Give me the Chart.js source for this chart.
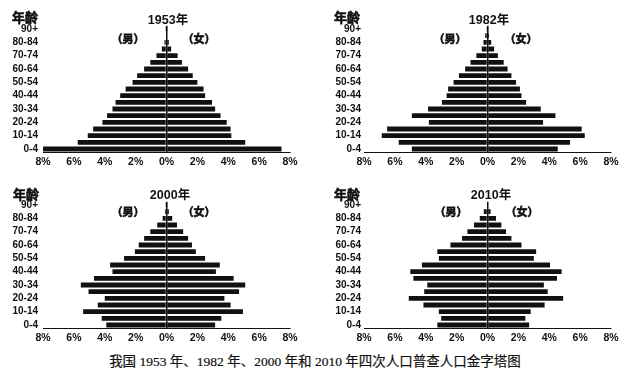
<!DOCTYPE html>
<html>
<head>
<meta charset="utf-8">
<script src="https://cdn.jsdelivr.net/npm/chart.js@4.4.1/dist/chart.umd.min.js"></script>
<style>
    body { margin: 0; background: #fff; }
    #page { position: relative; width: 630px; height: 377px; overflow: hidden; background: #fff; }
    canvas { position: absolute; }
    .txt { position: absolute; transform: translate(-50%, -50%); white-space: nowrap; color: #111;
           font-family: "Liberation Sans", "Noto Sans CJK SC", sans-serif; font-weight: bold; }
    .cjk { font-family: "Noto Sans CJK SC", sans-serif; -webkit-text-stroke: 0.6px #111; }
    #caption { position: absolute; left: 315px; top: 360px; transform: translate(-50%, -50%); white-space: nowrap;
               font-family: "Liberation Serif", "Noto Sans CJK SC", serif; font-size: 13.5px; color: #111;
               -webkit-text-stroke: 0.2px #111; }
</style>
</head>
<body>
<div id="page">
    <canvas id="c1" width="310" height="170" style="left:0px;top:0px"></canvas>
    <canvas id="c2" width="310" height="170" style="left:321px;top:0px"></canvas>
    <canvas id="c3" width="310" height="170" style="left:0px;top:176px"></canvas>
    <canvas id="c4" width="310" height="170" style="left:321px;top:176px"></canvas>

    <div class="txt cjk" style="left:25px;top:16px;font-size:13px">年龄</div>
    <div class="txt" style="left:168px;top:18px;font-size:12.5px">1953年</div>
    <div class="txt cjk" style="left:128px;top:38px;font-size:11px">（男）</div>
    <div class="txt cjk" style="left:199px;top:38px;font-size:11px">（女）</div>

    <div class="txt cjk" style="left:347px;top:16px;font-size:13px">年龄</div>
    <div class="txt" style="left:489px;top:18px;font-size:12.5px">1982年</div>
    <div class="txt cjk" style="left:450px;top:38px;font-size:11px">（男）</div>
    <div class="txt cjk" style="left:521px;top:38px;font-size:11px">（女）</div>

    <div class="txt cjk" style="left:26px;top:193px;font-size:13px">年龄</div>
    <div class="txt" style="left:170px;top:193px;font-size:12.5px">2000年</div>
    <div class="txt cjk" style="left:128px;top:211px;font-size:11px">（男）</div>
    <div class="txt cjk" style="left:199px;top:211px;font-size:11px">（女）</div>

    <div class="txt cjk" style="left:347px;top:193px;font-size:13px">年龄</div>
    <div class="txt" style="left:491px;top:193px;font-size:12.5px">2010年</div>
    <div class="txt cjk" style="left:451px;top:211px;font-size:11px">（男）</div>
    <div class="txt cjk" style="left:522px;top:211px;font-size:11px">（女）</div>

    <div id="caption">我国 1953 年、1982 年、2000 年和 2010 年四次人口普查人口金字塔图</div>
</div>
<script>
// age groups, youngest first
var ageGroups = ['0-4','5-9','10-14','15-19','20-24','25-29','30-34','35-39','40-44','45-49',
                 '50-54','55-59','60-64','65-69','70-74','75-79','80-84','85-89','90+'];
var xTicks = [-8, -6, -4, -2, 0, 2, 4, 6, 8];

// percent of total population
var male1953   = [8.0, 5.75, 5.1, 4.75, 4.15, 3.85, 3.5, 3.3, 3.0, 2.65, 2.2, 1.9, 1.45, 1.05, 0.65, 0.3, 0.13, 0.05, 0.02];
var female1953 = [7.45, 5.1, 4.2, 4.15, 3.9, 3.5, 3.15, 2.95, 2.5, 2.4, 2.0, 1.7, 1.4, 1.0, 0.72, 0.3, 0.15, 0.05, 0.02];

var male1982   = [4.9, 5.75, 6.85, 6.5, 3.8, 4.9, 3.85, 2.95, 2.65, 2.55, 2.2, 1.85, 1.45, 1.1, 0.72, 0.37, 0.26, 0.15, 0.03];
var female1982 = [4.55, 5.35, 6.3, 6.1, 3.6, 4.4, 3.45, 2.5, 2.2, 2.1, 1.85, 1.55, 1.3, 1.05, 0.67, 0.43, 0.24, 0.1, 0.03];

var male2000   = [3.9, 4.2, 5.4, 4.45, 4.0, 5.05, 5.55, 4.7, 3.5, 3.65, 2.75, 2.05, 1.8, 1.45, 1.05, 0.6, 0.25, 0.1, 0.03];
var female2000 = [3.15, 3.55, 4.95, 4.15, 3.75, 4.7, 5.1, 4.35, 3.2, 3.45, 2.5, 1.9, 1.65, 1.4, 1.08, 0.68, 0.37, 0.15, 0.03];

var male2010   = [3.25, 3.0, 3.15, 4.15, 5.1, 4.1, 3.9, 4.8, 5.0, 4.25, 3.15, 3.25, 2.4, 1.65, 1.3, 0.87, 0.5, 0.24, 0.05];
var female2010 = [2.7, 2.45, 2.8, 3.7, 4.9, 3.9, 3.65, 4.5, 4.8, 4.05, 3.0, 3.15, 2.2, 1.55, 1.2, 0.9, 0.55, 0.2, 0.05];

var panels = [
    {id: 'c1', male: male1953, female: female1953, labelPad: 5},
    {id: 'c2', male: male1982, female: female1982, labelPad: 3},
    {id: 'c3', male: male2000, female: female2000, labelPad: 5},
    {id: 'c4', male: male2010, female: female2010, labelPad: 3}
];

var ink = '#111';

function makePyramid(p) {
    var config = {
        type: 'bar',
        data: {
            labels: ageGroups,
            datasets: [
                {label: '男', data: p.male.map(function (v) { return -v; }), backgroundColor: ink,
                 barPercentage: 0.72, categoryPercentage: 1},
                {label: '女', data: p.female, backgroundColor: ink,
                 barPercentage: 0.72, categoryPercentage: 1}
            ]
        },
        options: {
            indexAxis: 'y',
            responsive: false,
            animation: false,
            layout: {padding: {top: 25.67, left: 0, right: 20, bottom: 0}},
            plugins: {
                legend: {display: false},
                tooltip: {enabled: false}
            },
            scales: {
                x: {
                    stacked: true,
                    min: -8,
                    max: 8,
                    afterBuildTicks: function (scale) {
                        scale.ticks = xTicks.map(function (v) { return {value: v}; });
                    },
                    afterFit: function (scale) { scale.height = 17.67; },
                    grid: {
                        drawTicks: false,
                        lineWidth: 1.5,
                        color: function (ctx) { return ctx.tick && ctx.tick.value === 0 ? ink : 'rgba(0,0,0,0)'; }
                    },
                    border: {display: true, color: ink, width: 1},
                    ticks: {
                        autoSkip: false,
                        maxRotation: 0,
                        padding: 3,
                        color: ink,
                        font: {family: 'Liberation Sans', size: 10.5, weight: 'bold'},
                        callback: function (v) { return Math.abs(v) + '%'; }
                    }
                },
                y: {
                    stacked: true,
                    reverse: true,
                    afterFit: function (scale) { scale.width = 43; },
                    grid: {display: false, drawTicks: false},
                    border: {display: false},
                    ticks: {
                        autoSkip: false,
                        padding: p.labelPad,
                        color: ink,
                        font: {family: 'Liberation Sans', size: 10, weight: 'bold'},
                        callback: function (v, i) { return i % 2 === 0 ? ageGroups[i] : ''; }
                    }
                }
            }
        }
    };
    var ctx = document.getElementById(p.id).getContext('2d');
    return new Chart(ctx, config);
}

panels.forEach(makePyramid);
</script>
</body>
</html>
